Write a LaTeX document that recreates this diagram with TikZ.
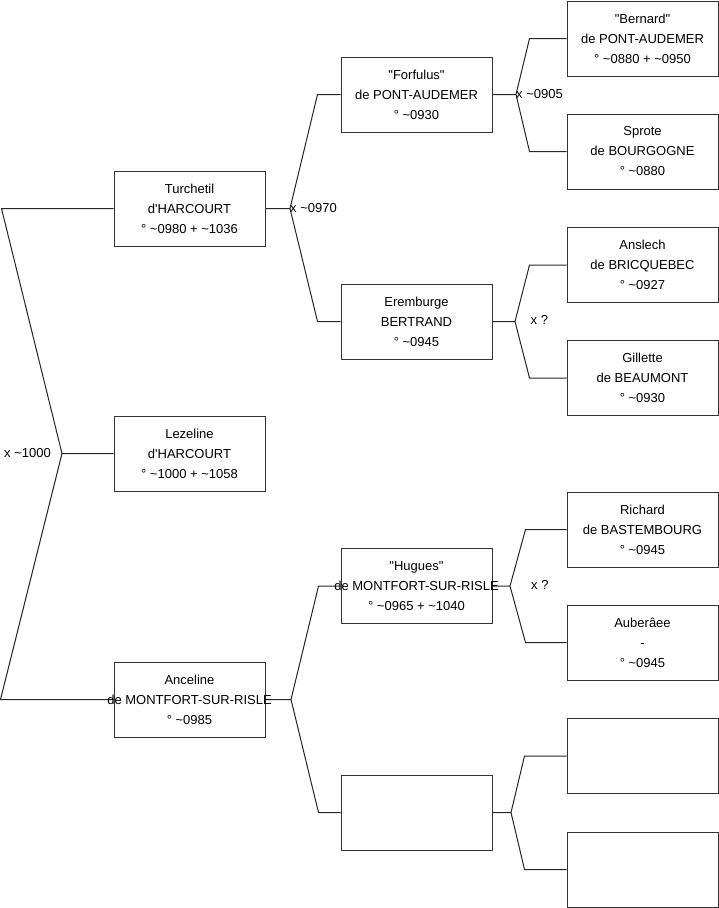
\documentclass[tikz,border=0pt]{standalone}
\usepackage{fontspec}
\setmainfont{Liberation Sans}[Ligatures=TeXOff]
\usetikzlibrary{calc,backgrounds}
\newcommand{\apx}{\textasciitilde}

\begin{document}
\begin{tikzpicture}[x=1pt, y=-1pt,
  pers/.style={draw=black!80, line width=1pt, minimum width=151pt, minimum height=75pt, inner sep=0pt, label={[txt]center:#1}},
  txt/.style={align=center, inner sep=0pt, font=\fontsize{13}{20}\selectfont},
  lnk/.style={line width=1pt, black!85},
  mar/.style={inner sep=0pt, font=\fontsize{13}{20}\selectfont},
]
  \useasboundingbox (0,0) rectangle (719,908);

  % generation 1
  \node[pers={Turchetil\\d'HARCOURT\\° \apx0980 + \apx1036}] (turchetil) at (189.5,208.5) {};
  \node[pers={Lezeline\\d'HARCOURT\\° \apx1000 + \apx1058}] (lezeline) at (189.5,453.5) {};
  \node[pers={Anceline\\de MONTFORT-SUR-RISLE\\° \apx0985}] (anceline) at (189.5,699.5) {};

  % generation 2
  \node[pers={"Forfulus"\\de PONT-AUDEMER\\° \apx0930}] (forfulus) at (416.5,94.5) {};
  \node[pers={Eremburge\\BERTRAND\\° \apx0945}] (eremburge) at (416.5,321.5) {};
  \node[pers={"Hugues"\\de MONTFORT-SUR-RISLE\\° \apx0965 + \apx1040}] (hugues) at (416.5,586) {};
  \node[pers={}] (inconnu) at (416.5,812.5) {};

  % generation 3
  \node[pers={"Bernard"\\de PONT-AUDEMER\\° \apx0880 + \apx0950}] (bernard) at (642.5,38.5) {};
  \node[pers={Sprote\\de BOURGOGNE\\° \apx0880}] (sprote) at (642.5,151.5) {};
  \node[pers={Anslech\\de BRICQUEBEC\\° \apx0927}] (anslech) at (642.5,265) {};
  \node[pers={Gillette\\de BEAUMONT\\° \apx0930}] (gillette) at (642.5,378) {};
  \node[pers={Richard\\de BASTEMBOURG\\° \apx0945}] (richard) at (642.5,529.5) {};
  \node[pers={Auberâee\\-\\° \apx0945}] (auberaee) at (642.5,642.5) {};
  \node[pers={}] (inconnu1) at (642.5,756) {};
  \node[pers={}] (inconnu2) at (642.5,869.5) {};

  % forks
  \coordinate (m0) at (62,453.5);
  \coordinate (m1) at (290,208.5);
  \coordinate (m2) at (516,94.5);
  \coordinate (m3) at (515,321.5);
  \coordinate (m4) at (291,699.5);
  \coordinate (m5) at (510,586);
  \coordinate (m6) at (511,812.5);

  \begin{scope}[on background layer]
    \draw[lnk] (lezeline.west) -- (m0)
      (turchetil.west) -- ++(-112,0) -- (m0) -- ($(anceline.west)+(-113,0)$) -- (anceline.west);
    \foreach \p/\m/\a/\b/\k in {turchetil/m1/forfulus/eremburge/23, forfulus/m2/bernard/sprote/37,
        eremburge/m3/anslech/gillette/37, anceline/m4/hugues/inconnu/22,
        hugues/m5/richard/auberaee/41, inconnu/m6/inconnu1/inconnu2/42} {
      \draw[lnk] (\p.east) -- (\m)
        (\a.west) -- ++(-\k,0) -- (\m) -- ($(\b.west)+(-\k,0)$) -- (\b.west);
    }
  \end{scope}

  % marriages
  \node[mar, anchor=east] (w0) at ($(m0)+(-11,0)$) {x \apx1000};
  \node[mar, anchor=west] (w1) at (m1) {x \apx0970};
  \node[mar, anchor=west] (w2) at (m2) {x \apx0905};
  \node[mar, anchor=west] (w3) at (530.5,320) {x ?};
  \node[mar, anchor=west] (w5) at (531,584.5) {x ?};
\end{tikzpicture}
\end{document}
